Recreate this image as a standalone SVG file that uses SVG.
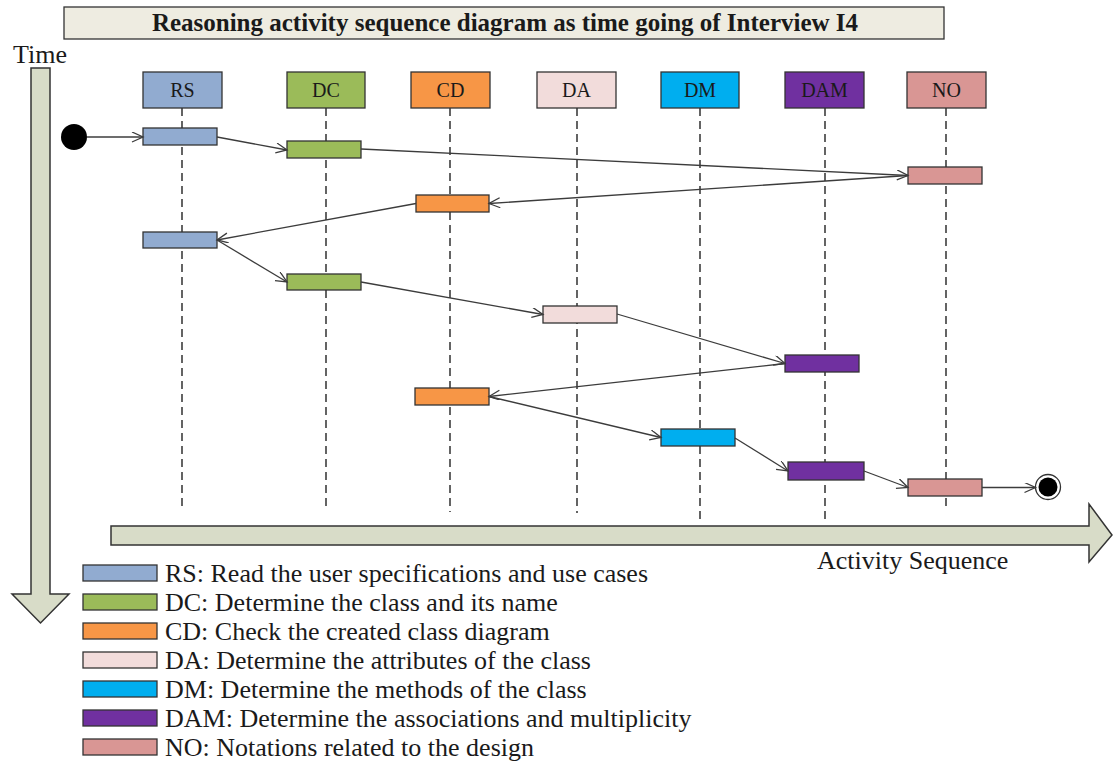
<svg xmlns="http://www.w3.org/2000/svg" width="1113" height="780" viewBox="0 0 1113 780">
  <style>
    text { font-family: "Liberation Serif", "Times New Roman", serif; fill: #1a1a1a; }
    .title { font-size: 25px; font-weight: bold; }
    .axis { font-size: 26px; }
    .hdr { font-size: 20px; }
    .legend { font-size: 26px; }
    .box { stroke: #333; stroke-width: 1.3; }
    .life { stroke: #111; stroke-width: 1.3; stroke-dasharray: 8 5; fill: none; }
    .conn { stroke: #3c3c3c; stroke-width: 1.3; fill: none; marker-end: url(#open); }
    .big { fill: #D8DCC8; stroke: #333; stroke-width: 1.5; }
    .rs { fill: #91ABD0; } .dc { fill: #9BBB59; } .cd { fill: #F79646; }
    .da { fill: #F2DCDB; } .dm { fill: #00AEEF; } .dam { fill: #7030A0; } .no { fill: #D99694; }
  </style>
  <defs>
    <marker id="open" markerUnits="userSpaceOnUse" markerWidth="14" markerHeight="12" refX="12" refY="5" orient="auto">
      <path d="M1,0 L12,5 L1,10" fill="none" stroke="#3c3c3c" stroke-width="1.3"/>
    </marker>
  </defs>

  <rect width="1113" height="780" fill="#fff"/>

  <!-- title banner -->
  <g id="title">
    <rect x="64" y="7" width="880" height="32" fill="#EEECE1" stroke="#333" stroke-width="1.3"/>
    <text class="title" x="505" y="31" text-anchor="middle">Reasoning activity sequence diagram as time going of Interview I4</text>
  </g>

  <!-- time axis -->
  <g id="time-axis">
    <text class="axis" x="13" y="63">Time</text>
    <polygon class="big" points="31,68 50,68 50,594 69,594 40.5,623 12,594 31,594"/>
  </g>

  <!-- activity sequence axis -->
  <g id="sequence-axis">
    <polygon class="big" points="111,526 1089,526 1089,504 1112,535 1089,562 1089,545 111,545"/>
    <text class="axis" x="817" y="569">Activity Sequence</text>
  </g>

  <!-- lifelines -->
  <g id="lifelines">
    <line class="life" x1="182" y1="108" x2="182" y2="508"/>
    <line class="life" x1="326" y1="108" x2="326" y2="508"/>
    <line class="life" x1="450" y1="108" x2="450" y2="512"/>
    <line class="life" x1="577" y1="108" x2="577" y2="513"/>
    <line class="life" x1="700" y1="108" x2="700" y2="520"/>
    <line class="life" x1="825" y1="108" x2="825" y2="520"/>
    <line class="life" x1="946" y1="108" x2="946" y2="506"/>
  </g>

  <!-- lifeline headers -->
  <g id="hdr-rs"><rect class="box rs" x="143" y="72" width="79" height="36"/><text class="hdr" x="182.5" y="97" text-anchor="middle">RS</text></g>
  <g id="hdr-dc"><rect class="box dc" x="287" y="72" width="78" height="36"/><text class="hdr" x="326" y="97" text-anchor="middle">DC</text></g>
  <g id="hdr-cd"><rect class="box cd" x="411" y="72" width="79" height="36"/><text class="hdr" x="450.5" y="97" text-anchor="middle">CD</text></g>
  <g id="hdr-da"><rect class="box da" x="537" y="72" width="79" height="36"/><text class="hdr" x="576.5" y="97" text-anchor="middle">DA</text></g>
  <g id="hdr-dm"><rect class="box dm" x="661" y="72" width="78" height="36"/><text class="hdr" x="700" y="97" text-anchor="middle">DM</text></g>
  <g id="hdr-dam"><rect class="box dam" x="785" y="72" width="79" height="36"/><text class="hdr" x="824.5" y="97" text-anchor="middle">DAM</text></g>
  <g id="hdr-no"><rect class="box no" x="907" y="72" width="79" height="36"/><text class="hdr" x="946.5" y="97" text-anchor="middle">NO</text></g>

  <!-- start and end states -->
  <g id="start"><circle cx="74" cy="137" r="13" fill="#000"/></g>
  <g id="end">
    <circle cx="1048" cy="487" r="12.5" fill="#fff" stroke="#333" stroke-width="1.3"/>
    <circle cx="1048" cy="487" r="9.5" fill="#000"/>
  </g>

  <!-- activity bars -->
  <g id="act-rs1"><rect class="box rs" x="143" y="128" width="74" height="17"/></g>
  <g id="act-dc1"><rect class="box dc" x="287" y="141" width="74" height="17"/></g>
  <g id="act-no1"><rect class="box no" x="908" y="167" width="74" height="17"/></g>
  <g id="act-cd1"><rect class="box cd" x="416" y="195" width="73" height="17"/></g>
  <g id="act-rs2"><rect class="box rs" x="143" y="232" width="74" height="16"/></g>
  <g id="act-dc2"><rect class="box dc" x="287" y="274" width="74" height="16"/></g>
  <g id="act-da"><rect class="box da" x="543" y="306" width="74" height="17"/></g>
  <g id="act-dam1"><rect class="box dam" x="785" y="355" width="74" height="17"/></g>
  <g id="act-cd2"><rect class="box cd" x="415" y="388" width="74" height="17"/></g>
  <g id="act-dm"><rect class="box dm" x="661" y="429" width="74" height="17"/></g>
  <g id="act-dam2"><rect class="box dam" x="788" y="462" width="76" height="18"/></g>
  <g id="act-no2"><rect class="box no" x="908" y="479" width="74" height="17"/></g>

  <!-- transitions -->
  <g id="connectors">
    <path class="conn" d="M87,137 L143,137"/>
    <path class="conn" d="M217,137 L287,150"/>
    <path class="conn" d="M361,149 L908,175.5"/>
    <path class="conn" d="M908,175.5 L489,203.5"/>
    <path class="conn" d="M416,203.5 L217,240"/>
    <path class="conn" d="M217,240 L287,282"/>
    <path class="conn" d="M361,282 L543,314.5"/>
    <path class="conn" d="M617,314 L785,363.5"/>
    <path class="conn" d="M785,363.5 L489,396.5"/>
    <path class="conn" d="M489,396.5 L661,437.5"/>
    <path class="conn" d="M735,438 L788,471"/>
    <path class="conn" d="M864,471 L908,487.5"/>
    <path class="conn" d="M982,487.5 L1035.5,487.5"/>
  </g>

  <!-- legend -->
  <g id="legend">
    <rect class="box rs" x="83" y="565" width="74" height="16"/>
    <text class="legend" x="165" y="582">RS: Read the user specifications and use cases</text>
    <rect class="box dc" x="83" y="594" width="74" height="16"/>
    <text class="legend" x="165" y="611">DC: Determine the class and its name</text>
    <rect class="box cd" x="83" y="623" width="74" height="16"/>
    <text class="legend" x="165" y="640">CD: Check the created class diagram</text>
    <rect class="box da" x="83" y="652" width="74" height="16"/>
    <text class="legend" x="165" y="669">DA: Determine the attributes of the class</text>
    <rect class="box dm" x="83" y="681" width="74" height="16"/>
    <text class="legend" x="165" y="698">DM: Determine the methods of the class</text>
    <rect class="box dam" x="83" y="710" width="74" height="16"/>
    <text class="legend" x="165" y="727">DAM: Determine the associations and multiplicity</text>
    <rect class="box no" x="83" y="739" width="74" height="16"/>
    <text class="legend" x="165" y="756">NO: Notations related to the design</text>
  </g>
</svg>
